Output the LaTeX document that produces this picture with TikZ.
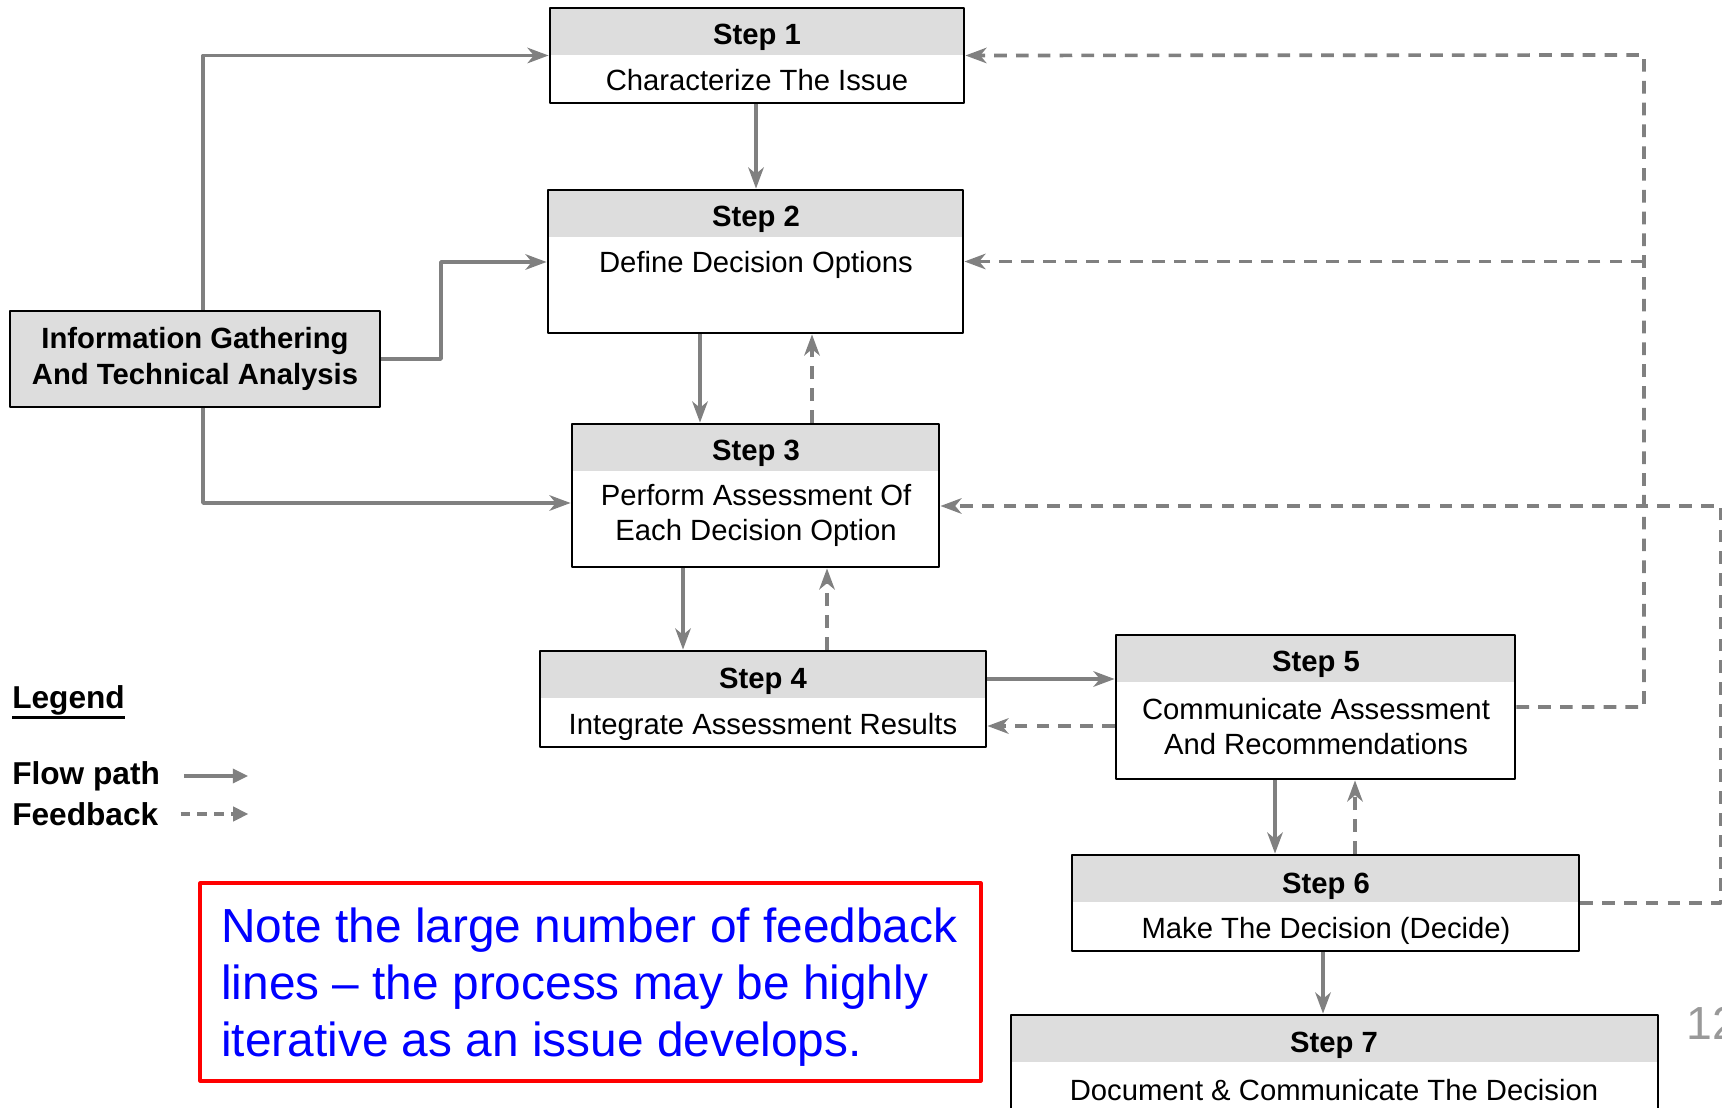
\documentclass[tikz,border=0pt]{standalone}
\usepackage{fontspec}
\setmainfont{Liberation Sans}
\usepackage{xcolor}
\usetikzlibrary{arrows.meta,fit}

\definecolor{hdrgray}{HTML}{DDDDDD}
\definecolor{linegray}{HTML}{808080}
\definecolor{notered}{HTML}{FF0000}
\definecolor{noteblue}{HTML}{0000FF}
\definecolor{numgray}{HTML}{999999}

\tikzset{
  stepbox/.style={draw=black,line width=2pt,inner sep=0pt,
    path picture={\fill[hdrgray] (path picture bounding box.north west)
      rectangle ([yshift=-1.175cm]path picture bounding box.north east);}},
  infobox/.style={draw=black,line width=2pt,inner sep=0pt,fill=hdrgray},
  steptitle/.style={font=\fontsize{20.8}{25}\selectfont\bfseries},
  stepbody/.style={font=\fontsize{20.8}{24.9}\selectfont,align=center},
  flow/.style={draw=linegray,line width=2.6pt,
    -{Stealth[length=15pt,width=11pt,inset=4.5pt]}},
  fback/.style={flow,dash pattern=on 9pt off 6.5pt},
  legtext/.style={anchor=west,inner sep=0pt,font=\fontsize{22.5}{27}\selectfont\bfseries},
  legflow/.style={draw=linegray,line width=2.6pt,-{Triangle[length=11pt,width=10pt]}},
  legback/.style={legflow,dash pattern=on 7pt off 5pt},
}

\begin{document}
\begin{tikzpicture}[x=0.025cm,y=-0.025cm,line join=round]
  \useasboundingbox (0,0) rectangle (1722,1108);

  % step boxes
  \node[stepbox,fit={(550,8) (964,103)}] (s1) {};
  \node[stepbox,fit={(548,190) (963,333)}] (s2) {};
  \node[stepbox,fit={(572,424) (939,567)}] (s3) {};
  \node[stepbox,fit={(540,651) (986,747)}] (s4) {};
  \node[stepbox,fit={(1116,635) (1515,779)}] (s5) {};
  \node[stepbox,fit={(1072,855) (1579,951)}] (s6) {};
  \node[stepbox,fit={(1011,1015) (1658,1150)}] (s7) {};
  \node[infobox,fit={(10,311) (380,407)}] (info) {};

  \node[steptitle] (s1t) at (757,37) {Step 1};
  \node[stepbody] (s1b) at (757,80) {Characterize The Issue};
  \node[steptitle] (s2t) at (756,219) {Step 2};
  \node[stepbody] (s2b) at (756,265) {Define Decision Options};
  \node[steptitle] (s3t) at (756,453) {Step 3};
  \node[stepbody] (s3b) at (756,515) {Perform Assessment Of\\Each Decision Option};
  \node[steptitle] (s4t) at (763,681) {Step 4};
  \node[stepbody] (s4b) at (763,727) {Integrate Assessment Results};
  \node[steptitle] (s5t) at (1316,664) {Step 5};
  \node[stepbody] (s5b) at (1316,727) {Communicate Assessment\\And Recommendations};
  \node[steptitle] (s6t) at (1326,886) {Step 6};
  \node[stepbody] (s6b) at (1326,931) {Make The Decision (Decide)};
  \node[steptitle] (s7t) at (1334,1045) {Step 7};
  \node[stepbody] (s7b) at (1334,1090) {Document \& Communicate The Decision};
  \node[steptitle,align=center] (infot) at (195,359) {Information Gathering\\And Technical Analysis};

  % bend points
  \coordinate (b1) at (203,55);
  \coordinate (b2) at (441,262);
  \coordinate (b3) at (203,503);
  \coordinate (r1) at (1644,55);
  \coordinate (r2) at (1721,506);

  % flow paths
  \draw[flow] (info.north -| b1) |- (s1.west);
  \draw[flow] (info.east) -| (b2) -- (s2.west |- b2);
  \draw[flow] (info.south -| b3) -- (b3) -- (s3.west |- b3);
  \draw[flow] (s1.south -| 756,0) -- (s2.north -| 756,0);
  \draw[flow] (s2.south -| 700,0) -- (s3.north -| 700,0);
  \draw[flow] (s3.south -| 683,0) -- (s4.north -| 683,0);
  \draw[flow] (s4.east |- 0,679) -- (s5.west |- 0,679);
  \draw[flow] (s5.south -| 1275,0) -- (s6.north -| 1275,0);
  \draw[flow] (s6.south -| 1323,0) -- (s7.north -| 1323,0);

  % feedback
  \draw[fback] (s3.north -| 812,0) -- (s2.south -| 812,0);
  \draw[fback] (s4.north -| 827,0) -- (s3.south -| 827,0);
  \draw[fback] (s5.west |- 0,726) -- (s4.east |- 0,726);
  \draw[fback] (s6.north -| 1355,0) -- (s5.south -| 1355,0);
  \draw[fback] (s5.east) -| (r1) -- (s1.east);
  \draw[fback] (s2.east -| r1) -- (s2.east);
  \draw[fback] (s6.east) -| (r2) -- (s3.east |- r2);

  % legend
  \node[legtext] (lgd) at (12,700) {Legend};
  \draw[line width=2.1pt] ([yshift=-1.5pt]lgd.south west) -- ([yshift=-1.5pt]lgd.south east);
  \node[legtext] (lflow) at (12,776) {Flow path};
  \node[legtext] (lback) at (12,814) {Feedback};
  \draw[legflow] ([xshift=0.6cm]lflow.east) -- ++(1.6cm,0);
  \draw[legback] ([xshift=0.55cm]lback.east) -- ++(1.7cm,0);

  % note
  \node[draw=notered,line width=2.2pt,inner sep=0pt,fit={(200,883) (981,1081)}] (note) {};
  \node[anchor=west,align=left,text=noteblue,inner sep=0pt,
    font=\fontsize{34}{40.5}\selectfont] (notet) at (221,987)
    {Note the large number of feedback\\lines -- the process may be highly\\iterative as an issue develops.};

  \node[anchor=west,text=numgray,inner sep=0pt,font=\fontsize{33}{40}\selectfont] (pnum) at (1686,1023) {12};
\end{tikzpicture}
\end{document}
